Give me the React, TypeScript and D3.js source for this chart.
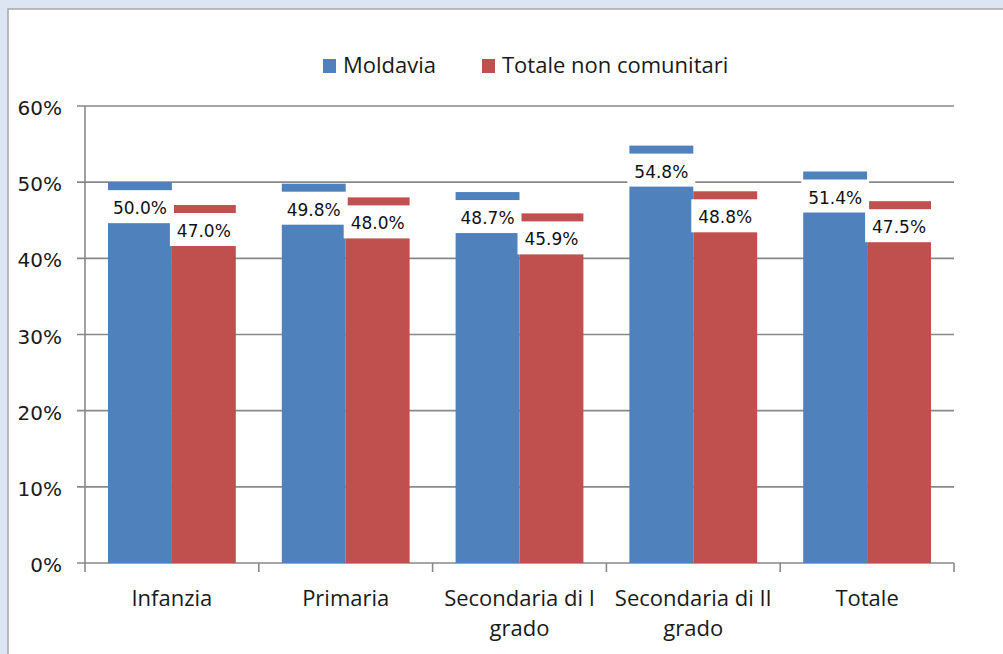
import React, { useRef, useEffect } from "react";
import * as d3 from "d3";

const categories = ["Infanzia", "Primaria", "Secondaria di I grado", "Secondaria di II grado", "Totale"];
const seriesNames = ["Moldavia", "Totale non comunitari"];
const moldavia = [0.5, 0.498, 0.487, 0.548, 0.514];
const nonComunitari = [0.47, 0.48, 0.459, 0.488, 0.475];
const yTicks = [0, 0.1, 0.2, 0.3, 0.4, 0.5, 0.6];
const colors = ["#4f81bd", "#c0504d"];

export default function App() {
  const svgRef = useRef<SVGSVGElement>(null);

  useEffect(() => {
    const width = 1003;
    const height = 654;
    const marginLeft = 85;
    const right = 954;
    const top = 106;
    const bottom = 563;

    const svg = d3.select(svgRef.current)
      .attr("width", width)
      .attr("height", height)
      .attr("viewBox", [0, 0, width, height]);

    svg.selectAll("*").remove();

    // frame
    svg.append("rect").attr("width", width).attr("height", height).attr("fill", "#dce6f2");
    svg.append("rect").attr("x", 8).attr("y", 9).attr("width", width).attr("height", height)
      .attr("fill", "#ffffff").attr("stroke", "#a6a6a6").attr("stroke-width", 1.5);

    const x0 = d3.scaleBand().domain(categories).range([marginLeft, right]).padding(0);
    const gap = 23;
    const x1 = d3.scaleBand().domain(seriesNames).range([gap, x0.bandwidth() - gap]);
    const y = d3.scaleLinear().domain([0, 0.6]).range([bottom, top]);

    const grid = "#898989";

    // gridlines + y ticks
    svg.append("g")
      .selectAll("line")
      .data(yTicks)
      .join("line")
        .attr("x1", marginLeft - 8)
        .attr("x2", right)
        .attr("y1", d => y(d))
        .attr("y2", d => y(d))
        .attr("stroke", grid)
        .attr("stroke-width", 1.6);

    svg.append("g")
      .selectAll("text")
      .data(yTicks)
      .join("text")
        .attr("x", 62)
        .attr("y", d => y(d) + 9)
        .attr("text-anchor", "end")
        .attr("font-family", "DejaVu Sans, Verdana, sans-serif")
        .attr("font-size", 20)
        .attr("fill", "#1a1a1a")
        .text(d => d3.format(".0%")(d));

    // y axis line
    svg.append("line")
      .attr("x1", marginLeft).attr("x2", marginLeft)
      .attr("y1", top).attr("y2", bottom + 9)
      .attr("stroke", grid).attr("stroke-width", 1.6);

    // category ticks
    svg.append("g")
      .selectAll("line")
      .data(categories)
      .join("line")
        .attr("x1", d => x0(d)! + x0.bandwidth())
        .attr("x2", d => x0(d)! + x0.bandwidth())
        .attr("y1", bottom)
        .attr("y2", bottom + 9)
        .attr("stroke", grid)
        .attr("stroke-width", 1.6);

    const rows = categories.map((c, i) => ({ c, values: [moldavia[i], nonComunitari[i]] }));
    const flat = rows.flatMap(r => r.values.map((v, j) => ({ c: r.c, s: seriesNames[j], v, j })));

    // bars
    svg.append("g")
      .selectAll("rect")
      .data(flat)
      .join("rect")
        .attr("x", d => x0(d.c)! + x1(d.s)!)
        .attr("y", d => y(d.v))
        .attr("width", x1.bandwidth())
        .attr("height", d => y(0) - y(d.v))
        .attr("fill", d => colors[d.j]);

    // labels with white boxes (drawn after all bars)
    const lab = svg.append("g").selectAll("g").data(flat).join("g");
    lab.append("rect")
      .attr("x", d => x0(d.c)! + x1(d.s)! - 2)
      .attr("y", d => y(d.v) + 8)
      .attr("width", x1.bandwidth() + 4)
      .attr("height", 33)
      .attr("fill", "#ffffff");
    lab.append("text")
      .attr("x", d => x0(d.c)! + x1(d.s)! + x1.bandwidth() / 2)
      .attr("y", d => y(d.v) + 32)
      .attr("text-anchor", "middle")
      .attr("font-family", "DejaVu Sans, sans-serif")
      .attr("font-size", 17)
      .attr("fill", "#111111")
      .text(d => d3.format(".1%")(d.v));

    // category labels
    const cat = svg.append("g")
      .selectAll("text")
      .data(categories)
      .join("text")
        .attr("x", d => x0(d)! + x0.bandwidth() / 2)
        .attr("y", 606)
        .attr("text-anchor", "middle")
        .attr("font-family", "Open Sans, sans-serif")
        .attr("font-size", 22)
        .attr("fill", "#1a1a1a");
    cat.each(function (d) {
      const words = d.split(" ");
      const lines = d.length > 15 ? [words.slice(0, -1).join(" "), words[words.length - 1]] : [d];
      d3.select(this).selectAll("tspan").data(lines).join("tspan")
        .attr("x", x0(d)! + x0.bandwidth() / 2)
        .attr("dy", (l, k) => (k === 0 ? 0 : 30))
        .text(l => l);
    });

    // legend
    const legendX = [323, 482];
    const leg = svg.append("g").selectAll("g").data(seriesNames).join("g")
      .attr("transform", (d, i) => `translate(${legendX[i]},59)`);
    leg.append("rect").attr("width", 13).attr("height", 14).attr("fill", (d, i) => colors[i]);
    leg.append("text")
      .attr("x", 20)
      .attr("y", 14)
      .attr("font-family", "Open Sans, sans-serif")
      .attr("font-size", 22)
      .attr("fill", "#1a1a1a")
      .text(d => d);
  }, []);

  return <svg ref={svgRef} style={{ position: "absolute", left: 0, top: 0, display: "block" }}></svg>;
}
